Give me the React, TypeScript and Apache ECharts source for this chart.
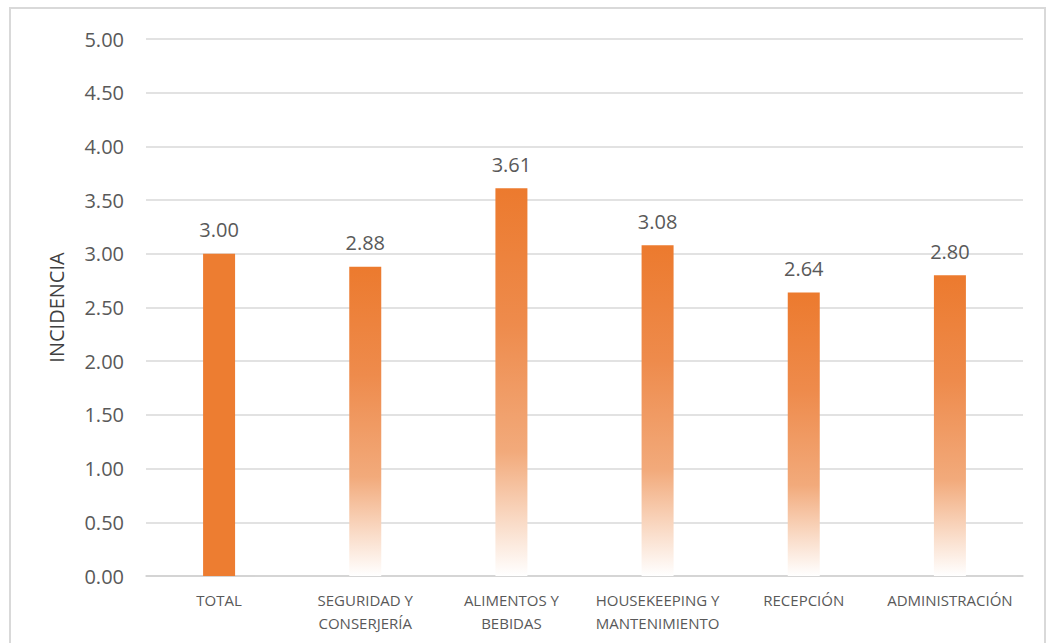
import React, { useEffect, useRef } from "react";
import * as echarts from "echarts";

const categories = [
  "TOTAL",
  "SEGURIDAD Y\nCONSERJERÍA",
  "ALIMENTOS Y\nBEBIDAS",
  "HOUSEKEEPING Y\nMANTENIMIENTO",
  "RECEPCIÓN",
  "ADMINISTRACIÓN",
];
const values = [3.0, 2.88, 3.61, 3.08, 2.64, 2.8];
const yAxisName = "INCIDENCIA";

const ORANGE = "#ED7D31";

export default function App() {
  const ref = useRef<HTMLDivElement>(null);
  useEffect(() => {
    if (!ref.current) return;
    const chart = echarts.init(ref.current, undefined, { renderer: "svg" });
    const fade = new echarts.graphic.LinearGradient(0, 0, 0, 1, [
      { offset: 0, color: "#EC7A2E" },
      { offset: 0.35, color: "#EE8B4C" },
      { offset: 0.68, color: "#F2AA7B" },
      { offset: 0.85, color: "#F9D8C2" },
      { offset: 1, color: "#FFFFFF" },
    ]);
    chart.setOption({
      animation: false,
      backgroundColor: "#FFFFFF",
      graphic: [
        {
          type: "rect",
          shape: { x: 10, y: 8, width: 1035, height: 660 },
          style: { fill: "none", stroke: "#D9D9D9", lineWidth: 2 },
          silent: true,
          z: -1,
        },
      ],
      grid: { left: 146, right: 26, top: 39, bottom: 67, containLabel: false },
      xAxis: {
        type: "category",
        data: categories,
        axisLine: { show: true, lineStyle: { color: "#D0D0D0", width: 1.5 } },
        axisTick: { show: false },
        axisLabel: {
          color: "#595959",
          fontFamily: "Open Sans",
          fontSize: 15,
          lineHeight: 23,
          margin: 12,
          interval: 0,
        },
      },
      yAxis: {
        type: "value",
        min: 0,
        max: 5,
        interval: 0.5,
        name: yAxisName,
        nameLocation: "middle",
        nameGap: 80,
        nameRotate: 90,
        nameTextStyle: {
          color: "#404040",
          fontFamily: "Open Sans",
          fontSize: 20,
        },
        axisLine: { show: false },
        axisTick: { show: false },
        splitLine: { lineStyle: { color: "#D9D9D9", width: 1.5 } },
        axisLabel: {
          color: "#595959",
          fontFamily: "Open Sans",
          fontSize: 20,
          margin: 22,
          formatter: (v: number) => v.toFixed(2),
        },
      },
      series: [
        {
          type: "bar",
          barWidth: 32,
          data: values.map((v, i) => ({
            value: v,
            itemStyle: { color: i === 0 ? ORANGE : fade },
          })),
          label: {
            show: true,
            position: "top",
            distance: 13,
            color: "#595959",
            fontFamily: "Open Sans",
            fontSize: 20,
            lineHeight: 22,
            formatter: (p: any) => Number(p.value).toFixed(2),
          },
        },
      ],
    });
    return () => chart.dispose();
  }, []);
  return (
    <div
      ref={ref}
      style={{ position: "fixed", left: 0, top: 0, width: 1049, height: 643 }}
    />
  );
}
